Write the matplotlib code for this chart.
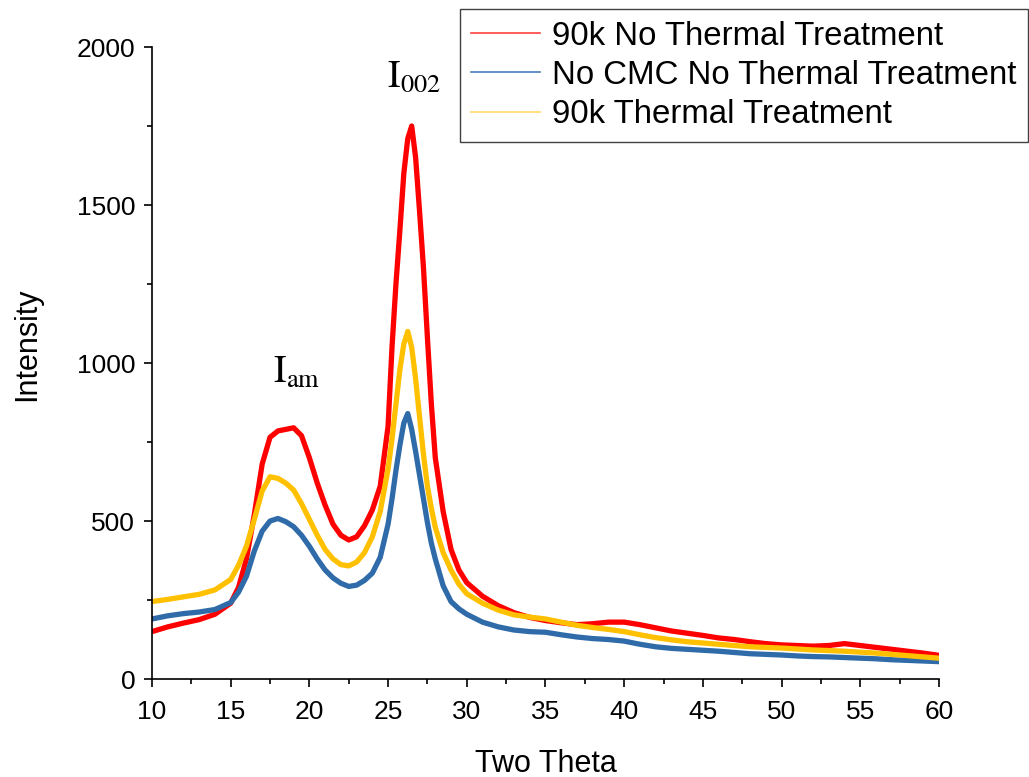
import matplotlib
matplotlib.use("Agg")
import matplotlib.pyplot as plt
from matplotlib.lines import Line2D
from matplotlib.ticker import MultipleLocator

plt.rcParams["font.family"] = ["Liberation Sans", "DejaVu Sans"]
plt.rcParams["mathtext.fontset"] = "stix"

# two theta positions (deg)
two_theta = [10, 11, 12, 13, 14, 15, 15.5, 16, 16.5, 17, 17.5, 18, 18.5, 19, 19.5,
             20, 20.5, 21, 21.5, 22, 22.5, 23, 23.5, 24, 24.5, 25, 25.25, 25.5, 25.75,
             26, 26.25, 26.5, 26.75, 27, 27.25, 27.5, 27.75, 28, 28.5, 29, 29.5, 30,
             31, 32, 33, 34, 35, 36, 37, 38, 39, 40, 41, 42, 43, 44, 45, 46, 47, 48,
             49, 50, 51, 52, 53, 54, 55, 56, 57, 58, 59, 60]

red_90k_no_tt = [150, 165, 177, 188, 205, 240, 290, 380, 520, 680, 765, 785, 790, 795, 770,
                 700, 620, 550, 490, 455, 440, 450, 485, 535, 610, 800, 1050, 1250, 1420,
                 1600, 1710, 1750, 1650, 1480, 1300, 1080, 870, 700, 530, 410, 345, 305,
                 262, 232, 210, 195, 185, 178, 172, 175, 180, 180, 172, 162, 152, 145, 138,
                 130, 125, 118, 112, 108, 106, 104, 106, 112, 106, 100, 94, 88, 82, 75]

blue_no_cmc = [190, 200, 207, 212, 220, 242, 275, 325, 405, 468, 500, 508, 498, 482, 455,
               420, 380, 345, 320, 303, 293, 297, 312, 335, 385, 490, 570, 660, 740,
               810, 840, 790, 720, 645, 570, 495, 430, 380, 295, 245, 222, 205,
               180, 165, 155, 150, 148, 140, 133, 128, 125, 120, 110, 102, 97, 94, 91,
               88, 84, 80, 78, 76, 73, 71, 70, 68, 66, 64, 61, 59, 57, 55]

yellow_90k_tt = [245, 252, 260, 268, 282, 315, 360, 420, 505, 595, 640, 635, 620, 598, 555,
                 505, 455, 410, 380, 362, 358, 370, 400, 450, 530, 665, 760, 870, 980,
                 1060, 1100, 1050, 950, 830, 710, 610, 540, 480, 400, 345, 300, 270,
                 240, 218, 203, 196, 190, 180, 170, 163, 157, 150, 140, 131, 124, 118, 114,
                 110, 106, 102, 100, 98, 95, 92, 90, 88, 85, 82, 78, 74, 70, 66]

labels = ["90k No Thermal Treatment", "No CMC No Thermal Treatment", "90k Thermal Treatment"]
colors = ["#FF0000", "#2F6BA8", "#FFC000"]

fig = plt.figure(figsize=(10.29, 7.77), dpi=100)
ax = fig.add_axes([0.1477, 0.1261, 0.7648, 0.8134])

for y, c in zip([red_90k_no_tt, blue_no_cmc, yellow_90k_tt], colors):
    ax.plot(two_theta, y, color=c, lw=3.8, solid_joinstyle="round")

ax.set_xlim(10, 60)
ax.set_ylim(0, 2000)
ax.xaxis.set_major_locator(MultipleLocator(5))
ax.xaxis.set_minor_locator(MultipleLocator(2.5))
ax.yaxis.set_major_locator(MultipleLocator(500))
ax.yaxis.set_minor_locator(MultipleLocator(250))
for s in ["top", "right"]:
    ax.spines[s].set_visible(False)
for s in ["left", "bottom"]:
    ax.spines[s].set_linewidth(1.2)
ax.tick_params(which="major", direction="out", length=6, width=1.2)
ax.tick_params(which="minor", direction="out", length=3.5, width=1.2)
ax.tick_params(axis="x", labelsize=19, pad=9)
ax.tick_params(axis="y", labelsize=19, pad=6)

ax.set_xlabel("Two Theta", fontsize=22)
ax.set_ylabel("Intensity", fontsize=22)
ax.xaxis.set_label_coords(0.5, -0.11)
ax.yaxis.set_label_coords(-0.14, 0.53)

ax.text(24.93, 1873, r"$\mathrm{I}_{002}$", fontsize=27, ha="left", va="baseline")
ax.text(17.69, 937, r"$\mathrm{I}_{\mathrm{am}}$", fontsize=27, ha="left", va="baseline")

handles = [Line2D([], [], color=c, lw=1.2) for c in ["#FF4040", "#4A7EBB", "#FFD966"]]
leg = fig.legend(handles, labels, loc="upper right", bbox_to_anchor=(1028 / 1029, 1 - 9 / 777),
                 fontsize=23.8, frameon=True, fancybox=False, framealpha=1,
                 edgecolor="#404040", borderpad=0.35, labelspacing=0.25,
                 handlelength=2.1, handletextpad=0.35, borderaxespad=0)
leg.get_frame().set_linewidth(1.0)

fig.savefig("out.png", dpi=100)
